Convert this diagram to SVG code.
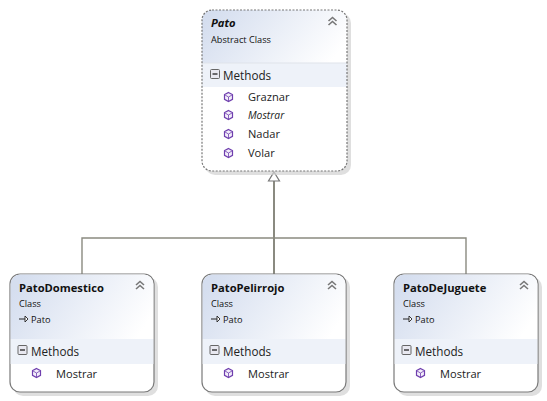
<svg xmlns="http://www.w3.org/2000/svg" xmlns:xlink="http://www.w3.org/1999/xlink" width="547" height="401" viewBox="0 0 547 401">
<style>
text{font-family:"Open Sans","Noto Sans","Liberation Sans",sans-serif;fill:#111}
.name{font-size:11.2px;font-weight:700}
.sub{font-size:9.2px}
.sec{font-size:11.7px;fill:#222}
.mem{font-size:11.1px;fill:#222}
.card{fill:#fff;stroke:#7a7a7a;stroke-width:1.2}
.shadow{fill:#d2d2d2;opacity:.7}
.band{fill:#eef2f9}
.link{fill:none;stroke:#8a8a80;stroke-width:1.4}
</style>
<defs>
<linearGradient id="hdr" x1="0" y1="0.3" x2="1" y2="0.6"><stop offset="0" stop-color="#d5deef"/><stop offset="1" stop-color="#ffffff"/></linearGradient>
<g id="chev" fill="none" stroke="#777" stroke-width="1.6"><path d="M-4 0L0-3.500L4 0M-4 4L0 0.500L4 4"/></g>
<g id="minus"><rect x="-4.500" y="-4.500" width="9" height="9" rx="1" fill="#e8e8f0" stroke="#666"/><path d="M-2.500 0H2.500" stroke="#222" stroke-width="1.300"/></g>
<g id="cube" fill="#f3eefa" stroke="#6f3fae" stroke-width="1.200"><path d="M0-4.500L4 -2.300V2.300L0 4.500L-4 2.300V-2.300Z"/><path d="M-4-2.300L0 0L4-2.300M0 0V4.500" stroke-width=".8"/></g>
<g id="arrow" fill="none" stroke="#222"><path d="M-5 0H1" stroke-width="1"/><path d="M1-3L4 0L1 3Z" fill="#fff" stroke-width=".9"/></g>
</defs>
<rect width="547" height="401" fill="#fff"/>
<g id="connectors">
<path class="link" d="M82 274V238H466V274"/>
<path class="link" d="M274 274V181" style="stroke-width:2"/>
<path d="M274 172L279.500 181H268.500Z" fill="#fff" stroke="#777" stroke-width="1.200"/>
</g>
<g id="Pato">
<rect class="shadow" x="205" y="13" width="146" height="162" rx="10"/>
<path d="M212 10H337A10 10 0 0 1 347 20V63H202V20A10 10 0 0 1 212 10Z" fill="url(#hdr)"/>
<path d="M202 87H347V161A10 10 0 0 1 337 171H212A10 10 0 0 1 202 161Z" fill="#fff"/>
<rect class="band" x="202" y="63" width="145" height="24"/>
<path d="M202 63H347" stroke="#dfe3ea"/>
<rect x="202" y="10" width="145" height="161" rx="10" fill="none" stroke="#777" stroke-width="1.200" stroke-dasharray="2 1.500"/>
<text class="name" x="211" y="27" font-style="italic">Pato</text>
<text class="sub" x="211" y="43">Abstract Class</text>
<use xlink:href="#chev" x="332.500" y="21"/>
<use xlink:href="#minus" x="215" y="74"/>
<text class="sec" x="223" y="80">Methods</text>
<use xlink:href="#cube" x="228.500" y="97"/><text class="mem" x="248" y="101">Graznar</text>
<use xlink:href="#cube" x="228.500" y="115"/><text class="mem" x="248" y="119" font-style="italic" style="font-size:10.300px">Mostrar</text>
<use xlink:href="#cube" x="228.500" y="134"/><text class="mem" x="248" y="138">Nadar</text>
<use xlink:href="#cube" x="228.500" y="153"/><text class="mem" x="248" y="157">Volar</text>
</g>
<g id="PatoDomestico">
<rect class="shadow" x="13" y="277" width="145" height="119" rx="10"/>
<rect class="card" x="10" y="274" width="144" height="118" rx="10"/>
<path d="M20 274.600H144A9.500 9.500 0 0 1 153.400 284V339H10.600V284A9.500 9.500 0 0 1 20 274.600Z" fill="url(#hdr)"/>
<rect class="band" x="10.600" y="339" width="142.800" height="25"/>
<text class="name" x="19" y="292">PatoDomestico</text>
<text class="sub" x="19" y="307">Class</text>
<use xlink:href="#arrow" x="24" y="319"/><text class="sub" x="31" y="323">Pato</text>
<use xlink:href="#chev" x="140" y="285"/>
<use xlink:href="#minus" x="22.500" y="350"/>
<text class="sec" x="31" y="356">Methods</text>
<use xlink:href="#cube" x="36.500" y="373"/><text class="mem" x="56" y="378">Mostrar</text>
</g>
<g id="PatoPelirrojo">
<rect class="shadow" x="205" y="277" width="145" height="119" rx="10"/>
<rect class="card" x="202" y="274" width="144" height="118" rx="10"/>
<path d="M212 274.600H336A9.500 9.500 0 0 1 345.400 284V339H202.600V284A9.500 9.500 0 0 1 212 274.600Z" fill="url(#hdr)"/>
<rect class="band" x="202.600" y="339" width="142.800" height="25"/>
<text class="name" x="211" y="292">PatoPelirrojo</text>
<text class="sub" x="211" y="307">Class</text>
<use xlink:href="#arrow" x="216" y="319"/><text class="sub" x="223" y="323">Pato</text>
<use xlink:href="#chev" x="332" y="285"/>
<use xlink:href="#minus" x="214.500" y="350"/>
<text class="sec" x="223" y="356">Methods</text>
<use xlink:href="#cube" x="228.500" y="373"/><text class="mem" x="248" y="378">Mostrar</text>
</g>
<g id="PatoDeJuguete">
<rect class="shadow" x="397" y="277" width="145" height="119" rx="10"/>
<rect class="card" x="394" y="274" width="144" height="118" rx="10"/>
<path d="M404 274.600H528A9.500 9.500 0 0 1 537.400 284V339H394.600V284A9.500 9.500 0 0 1 404 274.600Z" fill="url(#hdr)"/>
<rect class="band" x="394.600" y="339" width="142.800" height="25"/>
<text class="name" x="403" y="292">PatoDeJuguete</text>
<text class="sub" x="403" y="307">Class</text>
<use xlink:href="#arrow" x="408" y="319"/><text class="sub" x="415" y="323">Pato</text>
<use xlink:href="#chev" x="524" y="285"/>
<use xlink:href="#minus" x="406.500" y="350"/>
<text class="sec" x="415" y="356">Methods</text>
<use xlink:href="#cube" x="420.500" y="373"/><text class="mem" x="440" y="378">Mostrar</text>
</g>
</svg>
